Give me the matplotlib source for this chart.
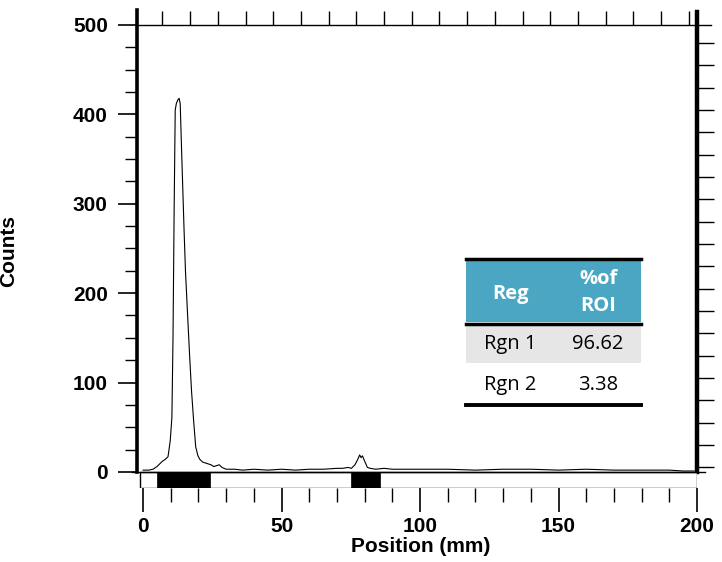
import matplotlib
matplotlib.use("Agg")
import matplotlib.pyplot as plt
from matplotlib.patches import Rectangle
from matplotlib.lines import Line2D
import numpy as np

# ---- data ----
position = [0, 2, 3.6, 5, 6, 7, 8, 9, 9.8, 10.4, 10.8, 11.2, 11.6, 12.0, 12.5, 13.0, 13.4,
            13.8, 14.3, 14.8, 15.3, 16.0, 16.8, 17.5, 18.3, 19.0, 19.8, 20.5, 21.5, 22.5,
            23.5, 24.5, 25.5, 26.5, 27.5, 28.5, 30, 33, 36, 40, 45, 50, 55, 60, 65, 70,
            72, 74, 75.2, 76.5, 77.5, 78.2, 78.7, 79.2, 80.0, 81.0, 82, 84, 87, 90, 95,
            100, 110, 120, 130, 140, 150, 160, 170, 180, 190, 195, 199]
counts = [2, 2, 3, 6, 9, 12, 14, 17, 35, 61, 150, 290, 405, 412, 416, 418, 412,
          370, 320, 270, 225, 180, 130, 90, 55, 28, 18, 14, 11, 10,
          9, 8, 6, 7, 8, 5, 3, 3, 2, 3, 2, 3, 2, 3, 3, 4,
          4, 5, 4, 8, 14, 19, 16, 18, 12, 5, 4, 3, 4, 3, 3,
          3, 3, 2, 3, 3, 2, 3, 2, 2, 2, 1, 1]

region_names = ["Rgn 1", "Rgn 2"]
region_pct = ["96.62", "3.38"]
region_start = [5.0, 75.2]
region_end = [24.1, 85.6]

W, H = 722, 562
fig = plt.figure(figsize=(W / 100, H / 100), dpi=100)

def fx(px):
    return px / W

def fy(py):
    return 1 - py / H

ax_l, ax_r, ax_t, ax_b = 137, 697, 25, 488
rect = [fx(ax_l), fy(ax_b), fx(ax_r) - fx(ax_l), fy(ax_t) - fy(ax_b)]
XL, YL = (-2.2, 200), (-18, 500)

# helper axes for the top and right tick rows (drawn first, underneath)
axt = fig.add_axes(rect, frameon=False)
axt.set_xlim(*XL); axt.set_ylim(*YL)
axt.patch.set_visible(False)
axt.xaxis.set_ticks_position("top")
axt.yaxis.set_ticks_position("right")
axt.set_xticks(np.arange(7, 200, 10))
axt.set_yticks(np.arange(5, 500, 25))
axt.minorticks_off()
axt.tick_params(axis="x", direction="out", length=10, width=1.0, labeltop=False, labelbottom=False)
axt.tick_params(axis="y", direction="out", length=12, width=1.0, labelright=False, labelleft=False)

ax = fig.add_axes(rect)
ax.patch.set_visible(False)
ax.set_xlim(*XL)
ax.set_ylim(*YL)

ax.plot(position, counts, color="black", lw=0.8)

# strip with region bars
ax.add_patch(Rectangle((-1, -18), 201, 18, facecolor="white", edgecolor="black", lw=1.0, zorder=3))
for s, e in zip(region_start, region_end):
    ax.add_patch(Rectangle((s, -18), e - s, 18, facecolor="black", edgecolor="black", lw=0.5, zorder=4))
ax.plot([-4, 203], [0, 0], color="black", lw=1.0, clip_on=False, zorder=4)

# spines
ax.spines["left"].set_linewidth(2.6)
ax.spines["left"].set_bounds(0, 517)
ax.spines["top"].set_linewidth(1.0)
ax.spines["top"].set_bounds(-2.2, 205)
ax.spines["right"].set_linewidth(3.2)
ax.spines["right"].set_bounds(0, 515)
ax.spines["bottom"].set_visible(False)

# left ticks
ax.set_yticks([0, 100, 200, 300, 400, 500])
ax.set_yticks(np.arange(25, 500, 25), minor=True)
ax.tick_params(axis="y", which="major", direction="out", length=14, width=1.2, pad=7, left=True, right=False)
ax.tick_params(axis="y", which="minor", direction="out", length=9, width=1.0, left=True, right=False)
for t in ax.get_yticklabels():
    t.set_fontfamily("Liberation Sans"); t.set_fontweight("bold"); t.set_fontsize(15)

# bottom ticks
ax.set_xticks([0, 50, 100, 150, 200])
ax.set_xticks(np.arange(10, 200, 10), minor=True)
ax.tick_params(axis="x", which="major", direction="out", length=17, width=1.2, pad=4, bottom=True, top=False)
ax.tick_params(axis="x", which="minor", direction="out", length=10, width=1.0, bottom=True, top=False)
for t in ax.get_xticklabels():
    t.set_fontfamily("Liberation Sans"); t.set_fontweight("bold"); t.set_fontsize(15)

fig.text(fx(421), fy(547), "Position (mm)", ha="center", va="center",
         family="Liberation Sans", weight="bold", size=15)
fig.text(fx(9), fy(251), "Counts", rotation=90, ha="center", va="center",
         family="Liberation Sans", weight="bold", size=15)

# table
tx0, tx1 = 466, 641
def hline(py, lw):
    fig.add_artist(Line2D([fx(tx0), fx(tx1)], [fy(py), fy(py)], color="black", lw=lw, transform=fig.transFigure))

fig.add_artist(Rectangle((fx(tx0), fy(322)), fx(tx1) - fx(tx0), fy(259) - fy(322),
                         facecolor="#4aa6c2", edgecolor="none", transform=fig.transFigure))
fig.add_artist(Rectangle((fx(tx0), fy(363)), fx(tx1) - fx(tx0), fy(325) - fy(363),
                         facecolor="#e6e6e6", edgecolor="none", transform=fig.transFigure))
hline(259, 2.5)
hline(323.5, 2.5)
hline(404.5, 2.8)

cx1, cx2 = 510, 598
tfont = dict(family=["Open Sans", "DejaVu Sans"], size=14.5)
fig.text(fx(cx1), fy(294), "Reg", ha="center", va="center", color="white", weight="bold", **tfont)
fig.text(fx(cx2), fy(279), "%of", ha="center", va="center", color="white", weight="bold", **tfont)
fig.text(fx(cx2), fy(306), "ROI", ha="center", va="center", color="white", weight="bold", **tfont)
row_y = [344, 385]
for name, pct, ry in zip(region_names, region_pct, row_y):
    fig.text(fx(cx1), fy(ry), name, ha="center", va="center", color="black", **tfont)
    fig.text(fx(cx2), fy(ry), pct, ha="center", va="center", color="black", **tfont)

fig.savefig("out.png", dpi=100)
